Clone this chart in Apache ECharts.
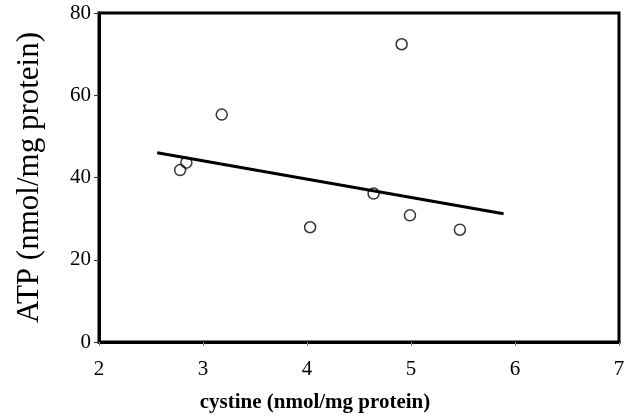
<!DOCTYPE html>
<html>
<head>
<meta charset="utf-8">
<script src="https://cdn.jsdelivr.net/npm/echarts@6/dist/echarts.min.js"></script>
<style>
  html, body { margin: 0; padding: 0; background: #fff; }
  #chart { width: 630px; height: 418px; }
</style>
</head>
<body>
<div id="chart"></div>
<script>
        var cystine = [2.78, 2.84, 3.18, 4.03, 4.64, 4.91, 4.99, 5.47];
        var atp = [41.8, 43.6, 55.3, 27.9, 36.1, 72.4, 30.8, 27.3];
        // regression line end points
        var fitX = [2.56, 5.89];
        var fitY = [46.0, 31.2];

        var points = cystine.map(function (x, i) { return [x, atp[i]]; });
        var fitLine = fitX.map(function (x, i) { return [x, fitY[i]]; });

        var font = '"Liberation Serif", "DejaVu Serif", serif';

        var myChart = echarts.init(document.getElementById('chart'));

        var option = {
            animation: false,
            backgroundColor: '#fff',
            grid: {
                left: 99,
                right: 11,
                top: 13,
                bottom: 74,
                show: true,
                borderColor: '#000',
                borderWidth: 3
            },
            xAxis: {
                type: 'value',
                min: 2,
                max: 7,
                interval: 1,
                name: 'cystine (nmol/mg protein)',
                nameLocation: 'middle',
                nameGap: 50,
                nameTextStyle: {
                    fontFamily: font,
                    fontWeight: 'bold',
                    fontSize: 21,
                    color: '#000',
                    padding: [0, 88, 0, 0]
                },
                axisLine: { show: true, lineStyle: { color: '#000', width: 3 } },
                axisTick: { show: true, length: 4, lineStyle: { color: '#888' } },
                axisLabel: { fontFamily: font, fontSize: 21, color: '#000', margin: 17 },
                splitLine: { show: false }
            },
            yAxis: {
                type: 'value',
                min: 0,
                max: 80,
                interval: 20,
                name: 'ATP (nmol/mg protein)',
                nameLocation: 'middle',
                nameGap: 54,
                nameTextStyle: {
                    fontFamily: font,
                    fontSize: 31,
                    color: '#000'
                },
                axisLine: { show: true, lineStyle: { color: '#000', width: 3 } },
                axisTick: { show: true, length: 5, lineStyle: { color: '#333' } },
                axisLabel: { fontFamily: font, fontSize: 21, color: '#000', margin: 8 },
                splitLine: { show: false }
            },
            series: [{
                type: 'line',
                data: fitLine,
                showSymbol: false,
                lineStyle: { color: '#000', width: 3 },
                z: 2
            }, {
                type: 'scatter',
                data: points,
                symbol: 'circle',
                symbolSize: 11,
                itemStyle: {
                    color: 'rgba(255,255,255,0)',
                    borderColor: '#000',
                    borderWidth: 1.5
                },
                z: 3
            }]
        };
        myChart.setOption(option);
</script>
</body>
</html>
